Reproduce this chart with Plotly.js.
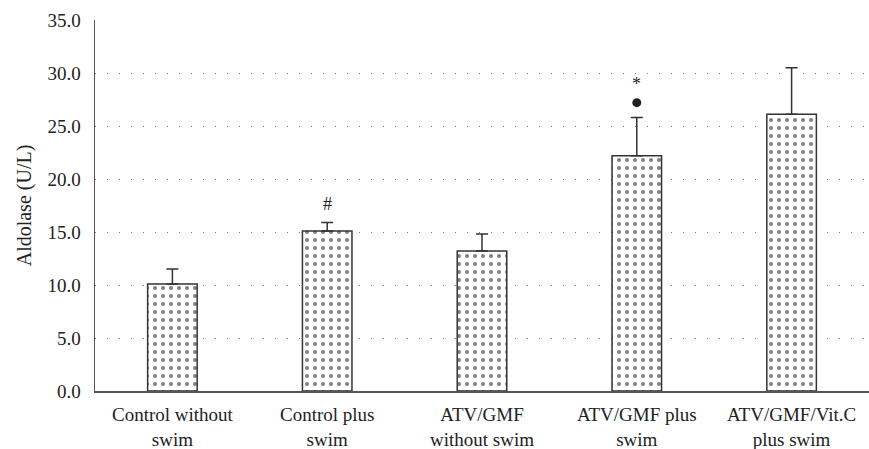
<!DOCTYPE html>
<html><head><meta charset="utf-8">
<script src="https://cdn.plot.ly/plotly-3.0.1.min.js"></script>
<style>body{margin:0;padding:0;background:#fff}#chart{width:869px;height:449px}</style>
</head><body><div id="chart"></div>
<script>
const categories = ["Control without<br>swim", "Control plus<br>swim", "ATV/GMF<br>without swim", "ATV/GMF plus<br>swim", "ATV/GMF/Vit.C<br>plus swim"];
const values = [10.1, 15.1, 13.2, 22.2, 26.1];
const errors = [1.4, 0.8, 1.6, 3.6, 4.4];
const tickVals = [0, 5, 10, 15, 20, 25, 30, 35];
const tickText = ["0.0", "5.0", "10.0", "15.0", "20.0", "25.0", "30.0", "35.0"];
const textMarks = [
  {cat: 1, y: 17.6, text: "#"},
  {cat: 3, y: 29.0, text: "*"}
];
const dotCats = [3];
const dotY = [27.2];

const fam = "Liberation Serif";
const tickFont = {family: fam, size: 19, color: "#222"};
const catFont = {family: fam, size: 19, color: "#222"};
const titleFont = {family: fam, size: 20, color: "#222"};

const bars = {
  type: "bar",
  x: categories,
  y: values,
  width: 0.32,
  marker: {
    color: "#ffffff",
    line: {color: "#333", width: 1.5},
    pattern: {shape: ".", fgcolor: "#000", bgcolor: "#ffffff", size: 8, solidity: 0.2, fillmode: "overlay"}
  },
  error_y: {type: "data", array: errors, arrayminus: errors.map(() => 0), symmetric: false, color: "#333", thickness: 1.5, width: 6},
  hoverinfo: "none"
};

const dots = {
  type: "scatter", mode: "markers",
  x: dotCats.map(i => categories[i]),
  y: dotY,
  marker: {symbol: "circle", size: 9, color: "#222"},
  hoverinfo: "none"
};

const layout = {
  width: 869, height: 449,
  margin: {l: 95, r: 0, t: 20, b: 58},
  paper_bgcolor: "#fff", plot_bgcolor: "#fff",
  font: tickFont,
  showlegend: false,
  xaxis: {
    type: "category",
    showline: true, linecolor: "#555", linewidth: 1.5,
    showgrid: false, zeroline: false,
    ticks: "outside", ticklen: 6, tickcolor: "rgba(0,0,0,0)",
    tickfont: catFont
  },
  yaxis: {
    range: [0, 35],
    tickvals: tickVals, ticktext: tickText,
    showline: true, linecolor: "#555", linewidth: 1.5,
    showgrid: true, gridcolor: "#777", gridwidth: 1, griddash: "1px,11px",
    zeroline: false,
    ticks: "outside", ticklen: 9, tickcolor: "rgba(0,0,0,0)",
    tickfont: tickFont,
    title: {text: "Aldolase (U/L)", font: titleFont, standoff: 10}
  },
  annotations: textMarks.map(m => ({
    x: categories[m.cat], y: m.y, xref: "x", yref: "y",
    text: m.text, showarrow: false,
    font: {family: fam, size: 18, color: "#222"}
  }))
};

Plotly.newPlot("chart", [bars, dots], layout, {staticPlot: true, displayModeBar: false});
</script>
</body></html>
